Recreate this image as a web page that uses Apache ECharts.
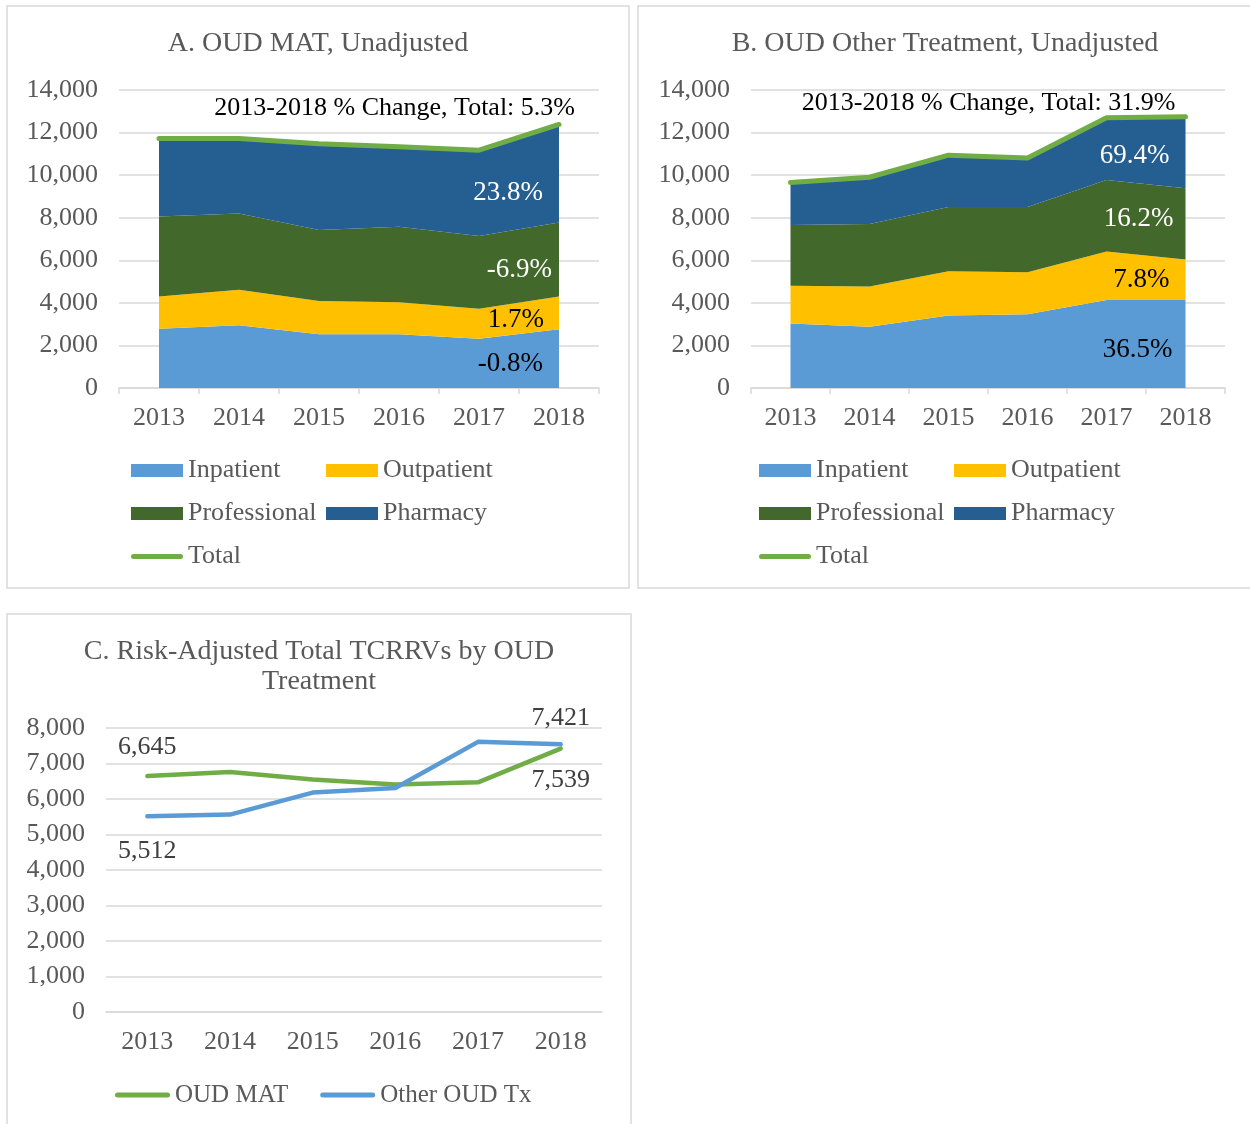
<!DOCTYPE html>
<html>
<head>
<meta charset="utf-8">
<title>OUD TCRRVs</title>
<script src="https://cdn.jsdelivr.net/npm/echarts@6/dist/echarts.min.js"></script>
<style>
html, body { margin: 0; padding: 0; background: #fff; }
#main { width: 1250px; height: 1124px; }
</style>
</head>
<body>
<div id="main"></div>
<script>
var years = ['2013', '2014', '2015', '2016', '2017', '2018'];

// A. OUD MAT, unadjusted
var matInpatient = [2780, 2950, 2530, 2530, 2310, 2760];
var matOutpatient = [1520, 1660, 1560, 1500, 1410, 1540];
var matProfessional = [3760, 3590, 3330, 3550, 3420, 3480];
var matPharmacy = [3660, 3520, 4060, 3750, 4030, 4600];
var matTotal = [11720, 11720, 11480, 11330, 11170, 12380];
var matChange = ['-0.8%', '1.7%', '-6.9%', '23.8%'];
var matTotalText = '2013-2018 % Change, Total: 5.3%';

// B. OUD other treatment, unadjusted
var othInpatient = [3030, 2880, 3410, 3470, 4130, 4140];
var othOutpatient = [1770, 1890, 2080, 1970, 2280, 1900];
var othProfessional = [2860, 2940, 3010, 3060, 3360, 3350];
var othPharmacy = [1990, 2190, 2440, 2310, 2930, 3350];
var othTotal = [9650, 9900, 10940, 10810, 12700, 12740];
var othChange = ['36.5%', '7.8%', '16.2%', '69.4%'];
var othTotalText = '2013-2018 % Change, Total: 31.9%';

// C. risk-adjusted totals
var adjMat = [6645, 6760, 6550, 6410, 6470, 7421];
var adjOther = [5512, 5560, 6180, 6310, 7610, 7539];

var FONT = 'Liberation Serif';
var GRAY = '#595959';
var LINE = '#d9d9d9';
var colors = {
  Inpatient: '#5b9bd5',
  Outpatient: '#ffc000',
  Professional: '#43682b',
  Pharmacy: '#255e91',
  Total: '#70ad47'
};

function fmt(v) {
  return String(v).replace(/\B(?=(\d{3})+(?!\d))/g, ',');
}

// label only on the last point
function lastLabel(data, text, color, pos, size) {
  return data.map(function (v, i) {
    if (i !== data.length - 1) return v;
    return {
      value: v,
      label: {
        show: true, formatter: text, color: color, fontFamily: FONT, fontSize: size || 27,
        position: pos, align: 'right', verticalAlign: 'middle'
      }
    };
  });
}

function areaSeries(name, data, idx, stack, text, textColor, pos) {
  return {
    name: name, type: 'line', xAxisIndex: idx, yAxisIndex: idx, stack: stack,
    symbol: 'circle', symbolSize: 0, showSymbol: true, silent: true,
    lineStyle: { width: 0 },
    areaStyle: { color: colors[name], opacity: 1 },
    itemStyle: { color: colors[name] },
    emphasis: { disabled: true },
    z: 2,
    data: lastLabel(data, text, textColor, pos)
  };
}

function totalSeries(data, idx, text, pos) {
  return {
    name: 'Total', type: 'line', xAxisIndex: idx, yAxisIndex: idx,
    symbol: 'circle', symbolSize: 0, showSymbol: true, silent: true,
    lineStyle: { color: colors.Total, width: 5, cap: 'round', join: 'round' },
    itemStyle: { color: colors.Total },
    emphasis: { disabled: true },
    z: 3,
    data: lastLabel(data, text, '#000', pos, 26)
  };
}

function adjSeries(name, data, color, pos0, pos5) {
  return {
    name: name, type: 'line', xAxisIndex: 2, yAxisIndex: 2,
    symbol: 'circle', symbolSize: 0, showSymbol: true, silent: true,
    lineStyle: { color: color, width: 4.5, cap: 'round', join: 'round' },
    itemStyle: { color: color },
    emphasis: { disabled: true },
    data: data.map(function (v, i) {
      if (i !== 0 && i !== data.length - 1) return v;
      return {
        value: v,
        label: {
          show: true, formatter: fmt(v), color: '#404040', fontFamily: FONT, fontSize: 26,
          position: i === 0 ? pos0 : pos5, align: 'center', verticalAlign: 'middle'
        }
      };
    })
  };
}

function xAx(idx, ticks) {
  return {
    type: 'category', gridIndex: idx, data: years, boundaryGap: true,
    axisLine: { lineStyle: { color: LINE, width: 1.5 } },
    axisTick: { show: ticks, length: 6, lineStyle: { color: LINE, width: 1.5 } },
    axisLabel: { fontFamily: FONT, fontSize: 26, color: GRAY, margin: 17 }
  };
}

function yAx(idx, max, step) {
  return {
    type: 'value', gridIndex: idx, min: 0, max: max, interval: step,
    axisLine: { show: false }, axisTick: { show: false },
    splitLine: { lineStyle: { color: LINE, width: 1.5 } },
    axisLabel: { fontFamily: FONT, fontSize: 26, color: GRAY, margin: 21, padding: [4, 0, 0, 0], formatter: fmt }
  };
}

function title(text, x, y) {
  return {
    text: text, left: x, top: y, textAlign: 'center', padding: 0,
    textStyle: { fontFamily: FONT, fontSize: 28, fontWeight: 'normal', color: GRAY, lineHeight: 30 }
  };
}

var barIcon = 'path://M2.5,0 H49.5 A2.5,2.5 0 0 1 49.5,5 H2.5 A2.5,2.5 0 0 1 2.5,0 Z';
var lineIcon = 'path://M2.5,0 H52.5 A2.5,2.5 0 0 1 52.5,5 H2.5 A2.5,2.5 0 0 1 2.5,0 Z';

function stackLegend(x) {
  return {
    left: x, top: 449, width: 400, padding: 0, itemGap: 0,
    itemWidth: 52, itemHeight: 13,
    textStyle: { fontFamily: FONT, fontSize: 26, color: GRAY, width: 138, lineHeight: 43 },
    data: [
      { name: 'Inpatient', icon: 'rect' },
      { name: 'Outpatient', icon: 'rect' },
      { name: 'Professional', icon: 'rect' },
      { name: 'Pharmacy', icon: 'rect' },
      { name: 'Total', icon: barIcon }
    ]
  };
}

var option = {
  animation: false,
  title: [
    title('A. OUD MAT, Unadjusted', 318, 29),
    title('B. OUD Other Treatment, Unadjusted', 945, 29),
    title('C. Risk-Adjusted Total TCRRVs by OUD\nTreatment', 319, 637)
  ],
  legend: [
    stackLegend(131),
    stackLegend(759),
    {
      left: 115, top: 1080, padding: 0, itemGap: 32,
      itemWidth: 55, itemHeight: 13,
      textStyle: { fontFamily: FONT, fontSize: 25, color: GRAY, lineHeight: 30 },
      data: [
        { name: 'OUD MAT', icon: lineIcon },
        { name: 'Other OUD Tx', icon: lineIcon }
      ]
    }
  ],
  grid: [
    { left: 119, top: 90, width: 480, height: 298 },
    { left: 751, top: 90, width: 474, height: 298 },
    { left: 106, top: 728, width: 496, height: 284 }
  ],
  xAxis: [xAx(0, true), xAx(1, true), xAx(2, false)],
  yAxis: [yAx(0, 14000, 2000), yAx(1, 14000, 2000), yAx(2, 8000, 1000)],
  graphic: [
    { type: 'rect', shape: { x: 7, y: 6, width: 622, height: 582 }, style: { fill: 'none', stroke: LINE, lineWidth: 1.5 }, z: -1 },
    { type: 'rect', shape: { x: 638, y: 6, width: 620, height: 582 }, style: { fill: 'none', stroke: LINE, lineWidth: 1.5 }, z: -1 },
    { type: 'rect', shape: { x: 7, y: 614, width: 624, height: 530 }, style: { fill: 'none', stroke: LINE, lineWidth: 1.5 }, z: -1 }
  ],
  series: [
    areaSeries('Inpatient', matInpatient, 0, 'A', matChange[0], '#000', [-16, 35]),
    areaSeries('Outpatient', matOutpatient, 0, 'A', matChange[1], '#000', [-15, 23]),
    areaSeries('Professional', matProfessional, 0, 'A', matChange[2], '#fff', [-7, 48]),
    areaSeries('Pharmacy', matPharmacy, 0, 'A', matChange[3], '#fff', [-16, 68]),
    totalSeries(matTotal, 0, matTotalText, [16, -16]),

    areaSeries('Inpatient', othInpatient, 1, 'B', othChange[0], '#000', [-13, 50]),
    areaSeries('Outpatient', othOutpatient, 1, 'B', othChange[1], '#000', [-16, 20]),
    areaSeries('Professional', othProfessional, 1, 'B', othChange[2], '#fff', [-12, 31]),
    areaSeries('Pharmacy', othPharmacy, 1, 'B', othChange[3], '#fff', [-16, 39]),
    totalSeries(othTotal, 1, othTotalText, [-10, -14]),

    adjSeries('OUD MAT', adjMat, colors.Total, [0, -29], [0, -30]),
    adjSeries('Other OUD Tx', adjOther, '#5b9bd5', [0, 35], [0, 36])
  ]
};

var myChart = echarts.init(document.getElementById('main'));
myChart.setOption(option);
</script>
</body>
</html>
